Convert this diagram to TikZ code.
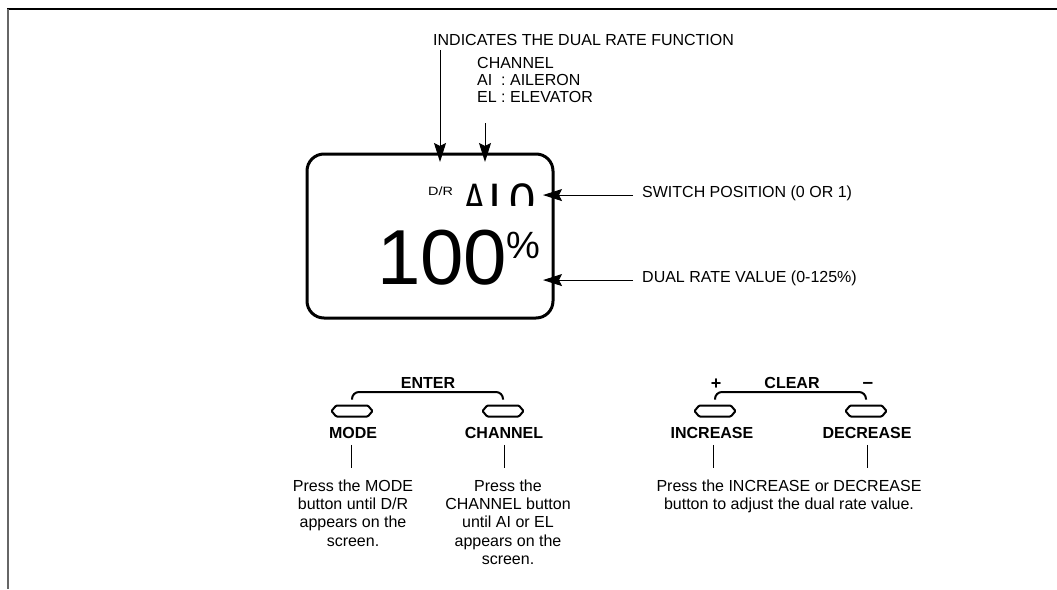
\documentclass[tikz,border=0pt]{standalone}
\usepackage{fontspec}
\setmainfont{Liberation Sans}
\usetikzlibrary{arrows.meta,shapes.symbols}
\tikzset{
  lbl/.style={font=\fontsize{16}{17}\selectfont, inner sep=0pt},
  blbl/.style={font=\bfseries\fontsize{16}{17}\selectfont, inner sep=0pt},
  desc/.style={font=\fontsize{16}{18.3}\selectfont, align=center, inner sep=0pt, anchor=north},
  arr/.style={-{Stealth[length=19pt,width=12pt,inset=3pt]}, line width=1pt},
  btn/.style={draw, line width=2pt, shape=signal, signal to=east and west,
    signal pointer angle=100, minimum width=41pt, minimum height=11pt,
    inner sep=0pt, rounded corners=1pt},
  brk/.style={line width=2pt, rounded corners=7pt},
  lead/.style={line width=0.8pt},
  disp/.style={draw, line width=3pt, rounded corners=17pt, minimum width=246pt,
    minimum height=164pt, inner sep=0pt},
  seg/.style={inner sep=0pt, anchor=base west, font=\fontsize{47}{47}\selectfont}
}
\begin{document}
\begin{tikzpicture}[x=1pt,y=-1pt]
\useasboundingbox (0,0) rectangle (1057,589);
% frame
\draw[line width=1.2pt] (7,9) -- (1057,9);
\draw[line width=2pt, black!60] (7.5,9) -- (7.5,589);

% display
\node[disp] (disp) at (430,236) {};
\node[inner sep=0pt, anchor=base west, font=\fontsize{12}{12}\selectfont] (dr) at (428,195) {\scalebox{1.2}[1]{D/R}};
\begin{scope}
  \clip (455,170) rectangle (540,205);
  \node[seg] (sa) at (463,216.7) {\scalebox{0.72}[1]{A}};
  \node[seg] (si) at (488.6,216.7) {I};
  \node[seg] (s0) at (509,216.7) {0};
\end{scope}
\node[inner sep=0pt, anchor=base west, font=\fontsize{78}{78}\selectfont] (val) at (377,284)
  {100\kern-1pt\raisebox{26pt}{\fontsize{38}{38}\selectfont\%}};

% top labels
\node[lbl, anchor=west] (ind) at (433,40) {INDICATES THE DUAL RATE FUNCTION};
\node[lbl, anchor=north west, align=left] (chl) at (477,57.3)
  {CHANNEL\\AI\ \ :\ AILERON\\EL\ :\ ELEVATOR};
\coordinate (a1) at ([xshift=7pt,yshift=-4pt]ind.south west);
\coordinate (a2) at (485,123);
\draw[arr, shorten >=-9.5pt] (a1) -- (a1 |- disp.north);
\draw[arr, shorten >=-9.5pt] (a2) -- (a2 |- disp.north);

% right labels
\node[lbl, anchor=base west] (sw) at (642,197.7) {SWITCH POSITION (0 OR 1)};
\node[lbl, anchor=base west] (drv) at (642,282.7) {DUAL RATE VALUE (0-125\%)};
\draw[arr, shorten >=-11.5pt] ([xshift=-9pt,yshift=-1.5pt]sw.west) -- ([yshift=-1.5pt]sw.west -| disp.east);
\draw[arr, shorten >=-11.5pt] ([xshift=-9pt,yshift=-1.5pt]drv.west) -- ([yshift=-1.5pt]drv.west -| disp.east);

% left button group
\node[btn] (mb) at (352,411) {};
\node[btn] (cb) at (503,411) {};
\node[blbl, anchor=base] (enter) at (428,388.8) {ENTER};
\draw[brk] ([yshift=5pt]mb.north) -- ([yshift=12.5pt]mb.north) -- ([yshift=12.5pt]cb.north) -- ([yshift=5pt]cb.north);
\node[blbl] (ml) at (353,433) {MODE};
\node[blbl] (cl) at (504,433) {CHANNEL};
\node[desc] (md) at (353,479.3) {Press the MODE\\button until D/R\\appears on the\\screen.};
\node[desc] (cd) at (508,479.3) {Press the\\CHANNEL button\\until AI or EL\\appears on the\\screen.};
\draw[lead, shorten <=6pt, shorten >=11pt] ([xshift=-2pt]ml.south) -- ([xshift=-2pt]ml.south |- md.north);
\draw[lead, shorten <=6pt, shorten >=11pt] (cl.south) -- (cl.south |- cd.north);

% right button group
\node[btn] (ib) at (715,411) {};
\node[btn] (db) at (866,411) {};
\node[blbl, anchor=base, font=\bfseries\fontsize{18}{18}\selectfont] (plus) at (716,389.5) {+};
\node[blbl, anchor=base] (clear) at (792,388.8) {CLEAR};
\node[blbl, anchor=base, font=\bfseries\fontsize{19}{19}\selectfont] (minus) at (868,388.8) {–};
\draw[brk] ([yshift=5pt]ib.north) -- ([yshift=12.5pt]ib.north) -- ([yshift=12.5pt]db.north) -- ([yshift=5pt]db.north);
\node[blbl] (il) at (712,433) {INCREASE};
\node[blbl] (dl) at (867,433) {DECREASE};
\node[desc] (id) at (789,479.3) {Press the INCREASE or DECREASE\\button to adjust the dual rate value.};
\draw[lead, shorten <=6pt, shorten >=11pt] ([xshift=1pt]il.south) -- ([xshift=1pt]il.south |- id.north);
\draw[lead, shorten <=6pt, shorten >=11pt] (dl.south) -- (dl.south |- id.north);
\end{tikzpicture}
\end{document}
